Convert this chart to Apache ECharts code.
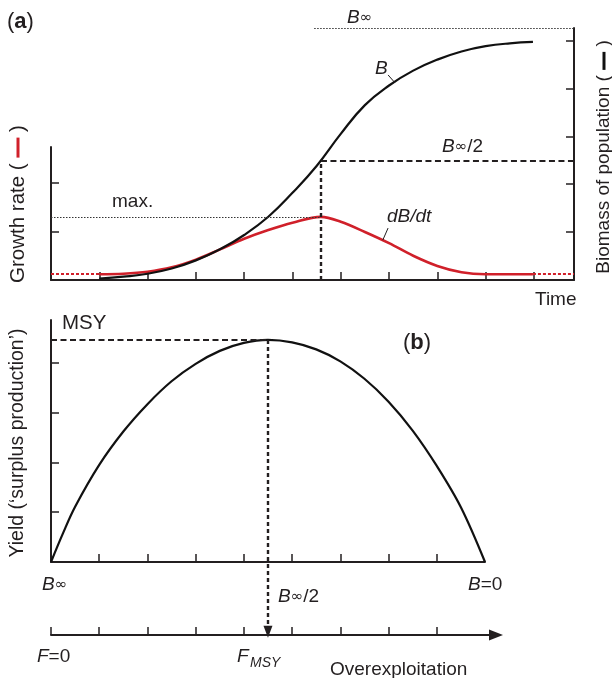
<!DOCTYPE html>
<html><head><meta charset="utf-8">
<script src="https://cdn.jsdelivr.net/npm/echarts@6/dist/echarts.min.js"></script>
<style>html,body{margin:0;padding:0;background:#fff}#c{width:612px;height:678px}</style>
</head><body><div id="c"></div>
<script>
// ---------------- data ----------------
const timeTicks = [1,2,3,4,5,6,7,8,9,10];
const growthTicks = [1,2];
const biomassTicks = [1,2,3,4,5];
const yieldXTicks = [1,2,3,4,5,6,7,8];
const yieldYTicks = [1,2,3,4];
const fTicks = [0,1,2,3,4,5,6,7,8];

// panel (a) biomass B(t)
const biomassT = [1.0,1.5,2.0,2.5,3.0,3.5,4.0,4.5,5.0,5.5,6.0,6.5,7.0,7.5,8.0,8.5,9.0,9.5,9.98];
const biomassV = [0.03,0.07,0.13,0.24,0.41,0.64,0.94,1.32,1.82,2.38,3.05,3.65,4.06,4.37,4.60,4.77,4.88,4.94,4.97];
// panel (a) growth rate dB/dt
const growthT = [1.0,1.5,2.0,2.5,3.0,3.5,4.0,4.5,5.0,5.59,6.0,6.5,7.0,7.5,8.0,8.5,9.0,9.98];
const growthV = [0.12,0.13,0.17,0.26,0.42,0.63,0.85,1.03,1.18,1.30,1.20,0.99,0.76,0.50,0.29,0.16,0.12,0.12];
// panel (b) yield vs biomass (B_inf -> B=0)
const yieldB = [0,0.25,0.5,1.0,1.5,2.0,2.5,3.0,3.5,4.0,4.5,5.0,5.5,6.0,6.5,7.0,7.5,8.0,8.5,9.0];
const yieldV = [0,0.58,1.11,1.95,2.62,3.17,3.63,3.98,4.24,4.40,4.46,4.41,4.27,4.03,3.68,3.22,2.64,1.93,1.10,0];

// reference levels
const bInf = 5.26, bInfFrom = 5.45, bHalf = 2.48, tHalf = 5.59;
const tStart = 1.0, tEnd = 9.98, tMax = 10.83;
const growthMax = 1.30, growthBase = 0.12;
const msy = 4.46, bMsy = 4.5, fArrowEnd = -1.40;
// leader lines for curve labels
const bLeader = [[6.98,4.28],[7.12,4.12]];
const gLeader = [[6.98,1.07],[6.87,0.82]];

// ---------------- style ----------------
const FONT = "'Liberation Sans', Arial, Helvetica, sans-serif";
const INF_FONT = "'DejaVu Sans', 'Liberation Sans', sans-serif";
const INK = '#231f20';
const RED = '#d0202a';

function axisCommon(ticks, showLine) {
  return {
    axisLine: {show: showLine, onZero: false, lineStyle: {color: INK, width: 2}},
    axisTick: {show: showLine, inside: true, length: 8, customValues: ticks, lineStyle: {color: INK, width: 1.5}},
    axisLabel: {show: false},
    splitLine: {show: false}
  };
}
function pairs(xs, ys) { return xs.map((x, i) => [x, ys[i]]); }
function seg(a, b, style) { return [{coord: a, lineStyle: style}, {coord: b, lineStyle: style}]; }

const dotted = {color: '#333', width: 1.2, type: [1.5, 1.5]};
const dashedH = {color: INK, width: 2.2, type: [6, 3.5]};
const dashedV = {color: INK, width: 2.4, type: [4, 3]};
const redDash = {color: RED, width: 1.8, type: [3, 2]};
const leader = {color: INK, width: 1, type: 'solid'};

function txt(x, y, text, size, extra) {
  return {type: 'text', x: x, y: y, silent: true, z: 100,
    style: Object.assign({text: text, fill: INK, fontSize: size, fontFamily: FONT,
      align: 'left', verticalAlign: 'middle'}, extra || {})};
}
const richBase = {
  i: {fontStyle: 'italic', fontSize: 19, fontFamily: FONT, fill: INK},
  s: {fontSize: 15, fontFamily: INF_FONT, fill: INK},
  n: {fontSize: 19, fontFamily: FONT, fill: INK},
  b: {fontWeight: 'bold', fontSize: 22, fontFamily: FONT, fill: INK},
  p: {fontSize: 22, fontFamily: FONT, fill: INK}
};

const chart = echarts.init(document.getElementById('c'), null, {renderer: 'canvas'});
chart.setOption({
  animation: false,
  backgroundColor: '#fff',
  grid: [
    {left: 51, right: 38, top: 28, bottom: 398},   // (a) biomass
    {left: 51, right: 38, top: 147, bottom: 398},  // (a) growth rate
    {left: 51, right: 127, top: 320, bottom: 116}, // (b) yield
    {left: 51, right: 116, top: 320, bottom: 43}   // F axis
  ],
  xAxis: [
    Object.assign({gridIndex: 0, type: 'value', min: 0, max: tMax, show: false}),
    Object.assign({gridIndex: 1, type: 'value', min: 0, max: tMax}, axisCommon(timeTicks, true)),
    Object.assign({gridIndex: 2, type: 'value', min: 0, max: 9}, axisCommon(yieldXTicks, true)),
    Object.assign({gridIndex: 3, type: 'value', min: 0, max: 9.23}, axisCommon(fTicks, true),
      {axisLine: {show: true, onZero: false, symbol: ['none', 'triangle'], symbolSize: [11, 14],
        lineStyle: {color: INK, width: 2}}})
  ],
  yAxis: [
    Object.assign({gridIndex: 0, type: 'value', min: 0, max: bInf, position: 'right'}, axisCommon(biomassTicks, true)),
    Object.assign({gridIndex: 1, type: 'value', min: 0, max: 2.74, position: 'left'}, axisCommon(growthTicks, true)),
    Object.assign({gridIndex: 2, type: 'value', min: 0, max: 4.86, position: 'left'}, axisCommon(yieldYTicks, true)),
    {gridIndex: 3, type: 'value', min: -1.466, max: 4.86, show: false}
  ],
  series: [
    {
      type: 'line', xAxisIndex: 1, yAxisIndex: 1, data: pairs(growthT, growthV),
      smooth: 0.35, showSymbol: false, lineStyle: {color: RED, width: 2.6}, z: 3,
      markLine: {silent: true, symbol: ['none', 'none'], label: {show: false},
        data: [
          seg([0, growthMax], [tHalf, growthMax], dotted),
          seg([0, growthBase], [tStart, growthBase], redDash),
          seg([tEnd, growthBase], [tMax, growthBase], redDash),
          seg(gLeader[0], gLeader[1], leader)
        ]}
    },
    {
      type: 'line', xAxisIndex: 0, yAxisIndex: 0, data: pairs(biomassT, biomassV),
      smooth: 0.45, showSymbol: false, lineStyle: {color: '#111', width: 2.2}, z: 4,
      markLine: {silent: true, symbol: ['none', 'none'], label: {show: false},
        data: [
          seg([bInfFrom, bInf], [tMax, bInf], dotted),
          seg([tHalf, bHalf], [tMax, bHalf], dashedH),
          seg([tHalf, 0], [tHalf, bHalf], dashedV),
          seg(bLeader[0], bLeader[1], leader)
        ]}
    },
    {
      type: 'line', xAxisIndex: 2, yAxisIndex: 2, data: pairs(yieldB, yieldV),
      smooth: 0.35, showSymbol: false, lineStyle: {color: '#111', width: 2.2}, z: 4,
      markLine: {silent: true, symbol: ['none', 'none'], label: {show: false},
        data: [ seg([0, msy], [bMsy, msy], dashedH) ]}
    },
    {
      type: 'line', xAxisIndex: 3, yAxisIndex: 3, data: [[bMsy, msy], [bMsy, fArrowEnd]],
      showSymbol: false, lineStyle: {opacity: 0}, z: 5,
      markLine: {silent: true, symbol: ['none', 'triangle'], symbolSize: [9, 12], label: {show: false},
        data: [ seg([bMsy, msy], [bMsy, fArrowEnd], dashedV) ]}
    }
  ],
  graphic: [
    txt(7, 22, '{p|(}{b|a}{p|)}', 22, {rich: richBase}),
    txt(347, 18, '{i|B}{s|∞}', 19, {rich: richBase}),
    txt(375, 69, '{i|B}', 19, {rich: richBase}),
    txt(442, 147, '{i|B}{s|∞}{n|/2}', 19, {rich: richBase}),
    txt(112, 202, 'max.', 19),
    txt(387, 217, 'dB/dt', 19, {fontStyle: 'italic'}),
    txt(535, 300, 'Time', 19),
    {type: 'text', x: 18, y: 204, rotation: Math.PI / 2, silent: true, z: 100,
      style: {text: 'Growth rate ( {r|\u00a0} )', fill: INK, fontSize: 20.5, fontFamily: FONT,
        align: 'center', verticalAlign: 'middle',
        rich: {r: {width: 20, height: 3, backgroundColor: RED, fontSize: 3}}}},
    {type: 'text', x: 604, y: 157, rotation: Math.PI / 2, silent: true, z: 100,
      style: {text: 'Biomass of population ( {k|\u00a0} )', fill: INK, fontSize: 19, fontFamily: FONT,
        align: 'center', verticalAlign: 'middle',
        rich: {k: {width: 18, height: 3, backgroundColor: '#111', fontSize: 3}}}},
    txt(62, 323, 'MSY', 20.5),
    txt(403, 343, '{p|(}{b|b}{p|)}', 21, {rich: richBase}),
    {type: 'text', x: 18, y: 443, rotation: Math.PI / 2, silent: true, z: 100,
      style: {text: "Yield (\u2018surplus production\u2019)", fill: INK, fontSize: 19.5, fontFamily: FONT,
        align: 'center', verticalAlign: 'middle'}},
    txt(42, 585, '{i|B}{s|∞}', 19, {rich: richBase}),
    txt(468, 585, '{i|B}{n|=0}', 19, {rich: richBase}),
    txt(278, 597, '{i|B}{s|∞}{n|/2}', 19, {rich: richBase}),
    txt(37, 657, '{i|F}{n|=0}', 19, {rich: richBase}),
    txt(237, 657, 'F', 19, {fontStyle: 'italic'}),
    txt(250, 663, 'MSY', 14, {fontStyle: 'italic'}),
    txt(330, 670, 'Overexploitation', 19)
  ]
});
</script>
</body></html>
